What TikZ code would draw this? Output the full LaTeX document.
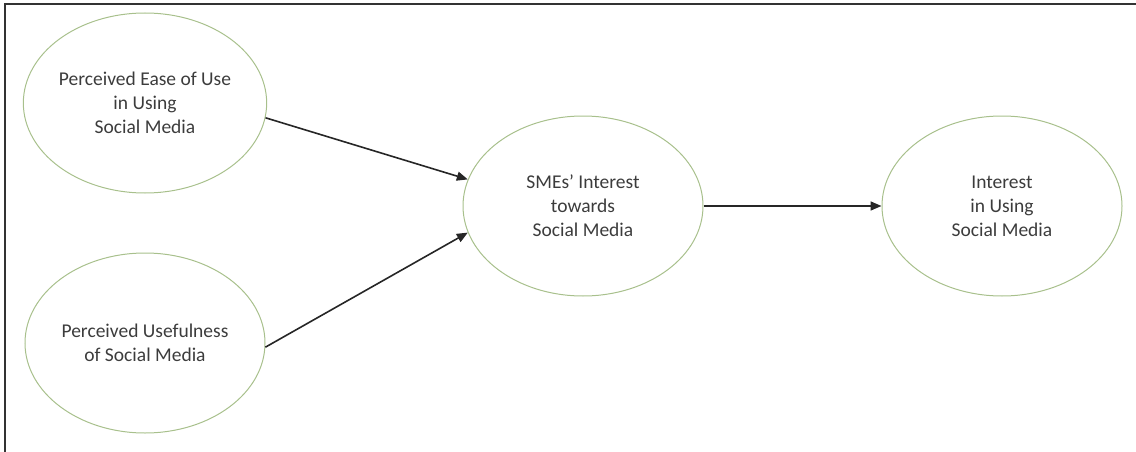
\documentclass[tikz,border=0pt]{standalone}
\usepackage{fontspec}
\setmainfont{Carlito}
\usetikzlibrary{shapes.geometric,arrows.meta}
\definecolor{ovalgreen}{HTML}{A8C08C}
\definecolor{labelgray}{HTML}{3C3C3C}
\begin{document}
\begin{tikzpicture}[x=1pt,y=-1pt,
    factor/.style={draw=ovalgreen,line width=1pt,ellipse,minimum width=240pt,minimum height=180pt,
        inner sep=0pt,align=center,text=labelgray,font=\fontsize{19.5}{24}\selectfont},
    link/.style={-{Triangle[length=11pt,width=9pt]},line width=1.6pt,draw=black!85}]
    \useasboundingbox (0,0) rectangle (1136,452);
    \draw[line width=1.5pt,black!80] (5,452) -- (5,4) -- (1136,4);
    \node[factor] (ease) at (145,103) {Perceived Ease of Use\\in Using\\Social Media};
    \node[factor] (useful) at (145,343) {Perceived Usefulness\\of Social Media};
    \node[factor] (smes) at (583,206) {SMEs' Interest\\towards\\Social Media};
    \node[factor] (interest) at (1002,206) {Interest\\in Using\\Social Media};
    \draw[link] (ease.-7) -- (smes.167);
    \draw[link] (useful.-2) -- (smes.-167);
    \draw[link] (smes) -- (interest);
\end{tikzpicture}
\end{document}
